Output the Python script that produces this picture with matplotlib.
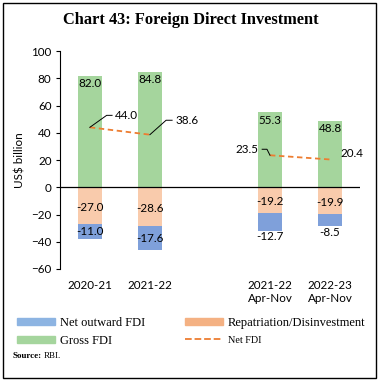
import matplotlib
matplotlib.use('Agg')
import matplotlib.pyplot as plt
from matplotlib.patches import Rectangle, Patch
from matplotlib.lines import Line2D
import numpy as np

# data (US$ billion)
periods = ['2020-21', '2021-22', '2021-22\nApr-Nov', '2022-23\nApr-Nov']
gross_fdi = [82.0, 84.8, 55.3, 48.8]
repatriation = [-27.0, -28.6, -19.2, -19.9]
net_outward = [-11.0, -17.6, -12.7, -8.5]
net_fdi = [44.0, 38.6, 23.5, 20.4]

c_gross = '#A5D59D'
c_rep = '#F9CBAC'
c_out = '#7FA0DA'
c_net = '#ED7D31'

sans = 'Lato'
serif = 'Liberation Serif'

xpos = np.array([0, 1, 3, 4])
w = 0.41

fig = plt.figure(figsize=(3.81, 3.81), dpi=100)
ax = fig.add_axes([0.157, 0.294, 0.788, 0.572])

ax.bar(xpos, gross_fdi, w, color=c_gross)
ax.bar(xpos, repatriation, w, color=c_rep)
ax.bar(xpos, net_outward, w, bottom=repatriation, color=c_out)
ax.plot(xpos[:2], net_fdi[:2], ls='--', color=c_net, lw=1.3, dashes=(3, 2))
ax.plot(xpos[2:], net_fdi[2:], ls='--', color=c_net, lw=1.3, dashes=(3, 2))
ax.axhline(0, color='black', lw=0.9)

fs = 8.4
# gross FDI labels, inside top
for x, g in zip(xpos, gross_fdi):
    ax.text(x, g - 6, f'{g:.1f}', ha='center', va='center', fontsize=fs, family=sans)
# repatriation labels, middle
for x, r in zip(xpos, repatriation):
    ax.text(x, r / 2 - 1, f'{r:.1f}', ha='center', va='center', fontsize=fs, family=sans)
# net outward: inside for the first two, below for the others
for i, (x, r, o) in enumerate(zip(xpos, repatriation, net_outward)):
    if i < 2:
        y = r + o / 2
    else:
        y = r + o - 4.5
    ax.text(x, y, f'{o:.1f}', ha='center', va='center', fontsize=fs, family=sans)

# net FDI labels with leader lines
ax.plot([0, 0.28, 0.37], [net_fdi[0], 52.8, 52.8], color='black', lw=0.7)
ax.text(0.42, 52.8, f'{net_fdi[0]:.1f}', ha='left', va='center', fontsize=fs, family=sans)
ax.plot([1, 1.27, 1.37], [net_fdi[1], 49.2, 49.2], color='black', lw=0.7)
ax.text(1.42, 49.2, f'{net_fdi[1]:.1f}', ha='left', va='center', fontsize=fs, family=sans)
ax.plot([2.87, 2.95, 3], [27.9, 27.9, net_fdi[2]], color='black', lw=0.7)
ax.text(2.8, 27.9, f'{net_fdi[2]:.1f}', ha='right', va='center', fontsize=fs, family=sans)
ax.text(4.18, 25, f'{net_fdi[3]:.1f}', ha='left', va='center', fontsize=fs, family=sans)

ax.set_xlim(-0.5, 4.5)
ax.set_ylim(-60, 100)
ax.set_yticks(np.arange(-60, 101, 20))
ax.set_xticks(xpos)
ax.set_xticklabels(periods, family=sans, fontsize=fs)
ax.tick_params(axis='x', length=0, pad=8)
ax.tick_params(axis='y', length=3, labelsize=fs, pad=3)
for lab in ax.get_yticklabels():
    lab.set_family(sans)
for s in ['top', 'right', 'bottom']:
    ax.spines[s].set_visible(False)
ax.spines['left'].set_linewidth(0.8)
ax.set_ylabel('US$ billion', family=sans, fontsize=fs, labelpad=4)

fig.text(0.5, 0.948, 'Chart 43: Foreign Direct Investment', ha='center', va='center',
         fontsize=11.8, fontweight='bold', family=serif)

# legends
h1 = [Patch(color='#8DB4E2', label='Net outward FDI'),
      Patch(color=c_gross, label='Gross FDI')]
h2 = [Patch(color='#F4B183', label='Repatriation/Disinvestment'),
      Line2D([], [], color=c_net, ls='--', lw=1.3, label='Net FDI')]
kw = dict(loc='upper left', frameon=False, prop={'family': serif, 'size': 9},
          handlelength=3.0, handleheight=0.5, labelspacing=0.5, handletextpad=0.4,
          borderpad=0, borderaxespad=0)
lg1 = fig.legend(handles=h1, bbox_to_anchor=(0.045, 0.168), **kw)
lg2 = fig.legend(handles=h2, bbox_to_anchor=(0.486, 0.168), **kw)
lg2.get_texts()[1].set_fontsize(7.3)

fig.text(0.034, 0.066, 'Source:', fontsize=6.5, fontweight='bold', family=serif, va='center')
fig.text(0.115, 0.066, 'RBI.', fontsize=6.5, family=serif, va='center')

fig.patches.append(Rectangle((0.009, 0.009), 0.978, 0.982, transform=fig.transFigure,
                             fill=False, edgecolor='black', lw=1.0))

fig.savefig('out.png', dpi=100)
